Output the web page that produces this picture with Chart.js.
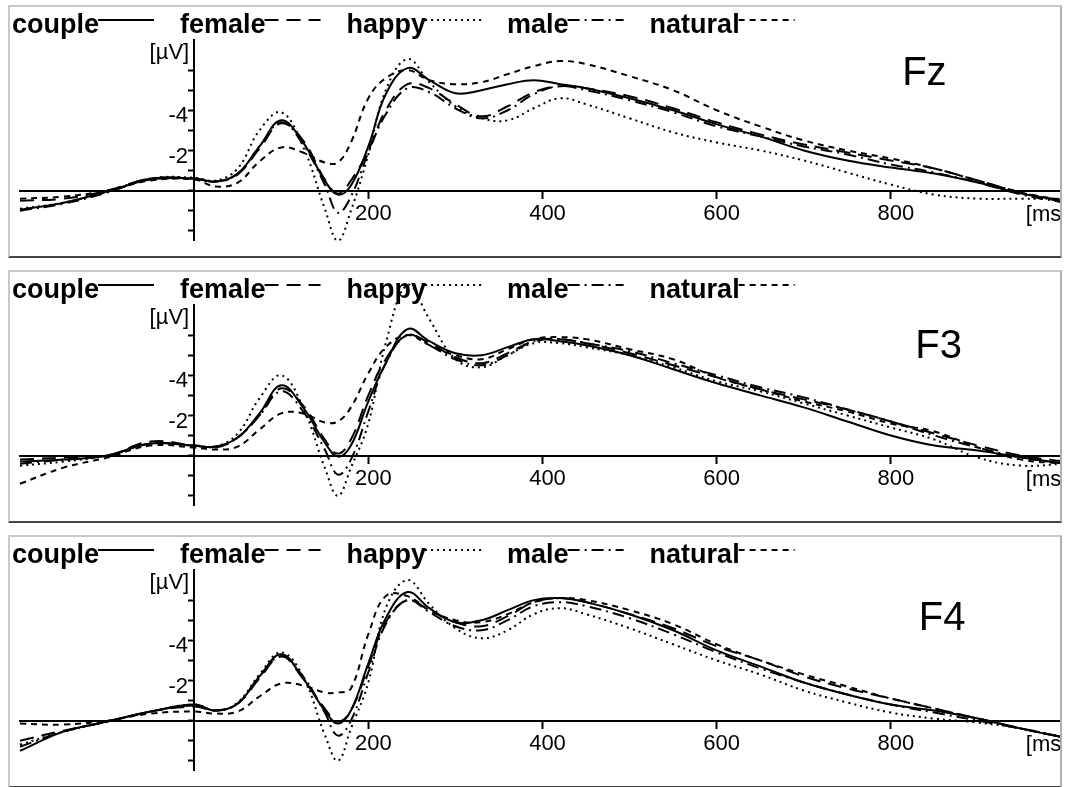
<!DOCTYPE html>
<html>
<head>
<meta charset="utf-8">
<script src="https://cdn.jsdelivr.net/npm/chart.js@4.4.1/dist/chart.umd.min.js"></script>
<style>
  body { margin: 0; background: #fff; width: 1067px; height: 787px; overflow: hidden; position: relative; }
  .panel { position: absolute; left: 8px; width: 1050px; height: 249px; border: 2px solid #c8c8c8; border-bottom-color: #444; border-right-color: #b0b0b0; overflow: hidden; background: #fff; }
  .panel canvas { position: absolute; left: 0; top: 0; }
</style>
</head>
<body>
<div class="panel" style="top:5px"><canvas id="fz" width="1060" height="249"></canvas></div>
<div class="panel" style="top:270px"><canvas id="f3" width="1060" height="249"></canvas></div>
<div class="panel" style="top:535px"><canvas id="f4" width="1060" height="249"></canvas></div>
<script>
// time points (ms) and conditions
let times = [-200,-150,-100,-50,0,25,50,75,100,125,150,165,180,200,220,245,270,300,330,360,390,420,450,500,550,600,650,700,750,800,850,900,950,1000]
let conditions = ['couple', 'female', 'happy', 'male', 'natural']
let xTicks = [200, 400, 600, 800]
let yTicks = [-6, -5, -4, -3, -2, -1, 0, 1, 2]
let yLabelled = [-4, -2]

// Fz (µV, negative is up)
let fzCouple  = [0.95,0.6,0.05,-0.55,-0.6,-0.45,-0.85,-2.2,-3.5,-2.4,-0.5,0.2,-0.25,-2.2,-4.8,-6.1,-5.5,-4.85,-5.0,-5.3,-5.5,-5.3,-5.1,-4.6,-4.0,-3.3,-2.7,-2.0,-1.5,-1.15,-0.85,-0.4,0.15,0.5]
let fzFemale  = [0.5,0.4,0.0,-0.6,-0.6,-0.45,-0.8,-2.1,-3.35,-2.5,-0.55,0.15,-0.5,-2.0,-4.0,-5.3,-5.1,-4.3,-3.7,-4.2,-4.9,-5.2,-5.1,-4.7,-4.1,-3.4,-2.8,-2.3,-1.9,-1.5,-1.1,-0.5,0.1,0.6]
let fzHappy   = [0.9,0.6,0.05,-0.6,-0.65,-0.5,-1.1,-3.0,-3.9,-2.2,0.9,2.5,1.0,-1.8,-5.0,-6.55,-5.4,-4.2,-3.6,-3.5,-4.1,-4.6,-4.3,-3.6,-2.9,-2.4,-2.0,-1.5,-0.9,-0.3,0.2,0.4,0.4,0.4]
let fzMale    = [1.0,0.65,0.1,-0.6,-0.6,-0.45,-0.85,-2.2,-3.4,-2.3,-0.3,1.1,0.3,-1.9,-3.8,-5.1,-4.9,-4.1,-3.6,-4.0,-4.8,-5.2,-5.0,-4.5,-3.9,-3.2,-2.7,-2.2,-1.8,-1.3,-0.9,-0.4,0.2,0.6]
let fzNatural = [0.4,0.3,0.0,-0.5,-0.55,-0.2,-0.4,-1.45,-2.15,-1.9,-1.4,-1.4,-2.4,-4.6,-5.6,-6.0,-5.5,-5.3,-5.4,-5.8,-6.2,-6.45,-6.3,-5.7,-5.0,-4.0,-3.2,-2.5,-2.0,-1.6,-1.1,-0.5,0.1,0.5]

// F3
let f3Couple  = [0.3,0.2,0.0,-0.6,-0.5,-0.45,-0.9,-2.1,-3.5,-2.4,-0.65,0.05,-0.5,-2.7,-4.6,-6.3,-5.7,-5.1,-5.0,-5.4,-5.8,-5.7,-5.5,-5.0,-4.3,-3.6,-3.0,-2.4,-1.7,-1.0,-0.5,-0.25,0.1,0.4]
let f3Female  = [0.2,0.1,0.0,-0.7,-0.5,-0.4,-0.9,-2.0,-3.35,-2.5,-0.8,-0.1,-0.8,-3.0,-4.8,-6.0,-5.6,-4.9,-4.6,-5.1,-5.7,-5.8,-5.6,-5.1,-4.5,-3.9,-3.3,-2.8,-2.3,-1.7,-1.1,-0.5,0.0,0.3]
let f3Happy   = [0.5,0.3,0.0,-0.6,-0.5,-0.45,-1.1,-2.85,-4.0,-2.4,0.6,2.0,0.6,-1.6,-5.6,-8.5,-6.8,-4.8,-4.4,-5.0,-5.6,-5.6,-5.4,-5.0,-4.4,-3.7,-3.2,-2.6,-2.0,-1.4,-0.8,0.1,0.5,0.4]
let f3Male    = [0.4,0.2,0.0,-0.6,-0.5,-0.45,-0.9,-2.0,-3.2,-2.2,-0.3,0.95,0.2,-2.2,-4.6,-6.0,-5.5,-4.8,-4.5,-5.0,-5.7,-5.8,-5.6,-5.2,-4.6,-4.0,-3.4,-2.9,-2.3,-1.7,-1.0,-0.4,0.1,0.4]
let f3Natural = [1.4,0.6,0.1,-0.5,-0.4,-0.3,-0.45,-1.3,-2.1,-2.1,-1.65,-1.7,-2.4,-4.1,-5.4,-6.0,-5.5,-5.0,-4.8,-5.3,-5.8,-5.9,-5.8,-5.3,-4.8,-3.9,-3.3,-2.7,-2.2,-1.6,-1.2,-0.4,0.2,0.4]

// F4
let f4Couple  = [1.5,0.55,0.05,-0.45,-0.8,-0.5,-0.85,-2.2,-3.3,-2.1,-0.5,0.15,-0.5,-2.85,-5.1,-6.4,-5.6,-4.9,-5.0,-5.5,-6.0,-6.1,-5.9,-5.3,-4.5,-3.5,-2.7,-1.9,-1.3,-0.8,-0.5,-0.1,0.4,0.85]
let f4Female  = [1.0,0.5,0.05,-0.45,-0.7,-0.5,-0.85,-2.1,-3.2,-2.1,-0.6,0.05,-0.5,-2.7,-4.9,-6.0,-5.5,-4.9,-4.7,-5.2,-5.9,-6.1,-5.9,-5.3,-4.6,-3.7,-3.0,-2.2,-1.6,-1.1,-0.6,-0.1,0.4,0.85]
let f4Happy   = [1.2,0.55,0.05,-0.45,-0.8,-0.5,-0.9,-2.3,-3.4,-2.2,0.7,2.0,0.4,-1.9,-5.6,-7.0,-5.8,-4.6,-4.1,-4.5,-5.3,-5.6,-5.3,-4.6,-3.8,-3.0,-2.3,-1.5,-0.9,-0.4,-0.1,0.1,0.4,0.85]
let f4Male    = [1.3,0.55,0.05,-0.45,-0.75,-0.5,-0.85,-2.2,-3.2,-2.2,-0.4,0.75,0.0,-2.4,-4.8,-6.0,-5.4,-4.7,-4.5,-5.0,-5.7,-5.9,-5.7,-5.1,-4.3,-3.4,-2.6,-1.9,-1.3,-0.8,-0.4,0.0,0.4,0.85]
let f4Natural = [0.15,0.2,0.0,-0.35,-0.45,-0.35,-0.45,-1.2,-1.85,-1.75,-1.4,-1.4,-1.6,-4.3,-6.2,-6.2,-5.5,-5.0,-4.9,-5.3,-5.9,-6.1,-6.0,-5.5,-4.8,-3.8,-3.0,-2.3,-1.7,-1.1,-0.6,-0.1,0.4,0.85]

// line style for each condition
let dashes = [[], [14, 8], [2, 4], [12, 5, 2, 5], [6, 5]]

Chart.defaults.font.family = '"Liberation Sans", Arial, sans-serif'
Chart.defaults.color = '#000'

// legend: text first, then the line sample
const legendAfter = {
    id: 'legendAfter',
    afterDraw(chart) {
        let ctx = chart.ctx
        ctx.save()
        ctx.font = 'bold 27px "Liberation Sans", Arial, sans-serif'
        ctx.fillStyle = '#000'
        ctx.strokeStyle = '#000'
        ctx.lineWidth = 2
        ctx.textBaseline = 'alphabetic'
        let x = 2
        chart.data.datasets.forEach(ds => {
            ctx.fillText(ds.label, x, 26)
            x += ctx.measureText(ds.label).width - 1
            ctx.setLineDash(ds.borderDash)
            ctx.beginPath()
            ctx.moveTo(x, 13)
            ctx.lineTo(x + 56, 13)
            ctx.stroke()
            x += 56 + 26
        })
        ctx.restore()
    }
}

// unit labels and electrode name
const axisText = {
    id: 'axisText',
    afterDraw(chart, args, opts) {
        let ctx = chart.ctx
        let xs = chart.scales.x
        let ys = chart.scales.y
        let x0 = xs.getPixelForValue(0)
        let y0 = ys.getPixelForValue(0)
        ctx.save()
        ctx.fillStyle = '#000'
        ctx.font = '22px "Liberation Sans", Arial, sans-serif'
        ctx.textBaseline = 'middle'
        ctx.textAlign = 'right'
        ctx.fillText('[µV]', x0 - 5, ys.getPixelForValue(-6.85))
        ctx.textAlign = 'left'
        ctx.fillText('[ms]', xs.getPixelForValue(955), y0 + 24)
        ctx.font = '40px "Liberation Sans", Arial, sans-serif'
        ctx.textBaseline = 'alphabetic'
        ctx.fillText(opts.name, xs.getPixelForValue(opts.at[0]), ys.getPixelForValue(opts.at[1]))
        ctx.restore()
    }
}

function make_chart(id, name, namePos, series){
    let ctx = document.getElementById(id).getContext('2d')
    return new Chart(ctx, {
        type: 'line',
        data: {
            datasets: conditions.map((c, i) => ({
                label: c,
                data: times.map((t, j) => ({x: t, y: series[i][j]})),
                borderColor: '#000',
                borderWidth: 2,
                borderDash: dashes[i],
                pointRadius: 0,
                tension: 0.4,
                fill: false,
                clip: false,
            })),
        },
        options: {
            responsive: false,
            animation: false,
            layout: {padding: {left: 10, right: 5, top: 33, bottom: 6}},
            plugins: {
                legend: {display: false},
                tooltip: {enabled: false},
                axisText: {name: name, at: namePos},
            },
            scales: {
                x: {
                    type: 'linear',
                    min: -200,
                    max: 1000,
                    position: {y: 0},
                    afterBuildTicks: s => { s.ticks = xTicks.map(v => ({value: v})) },
                    grid: {drawOnChartArea: false, tickLength: 7, tickWidth: 2, tickColor: '#000'},
                    border: {color: '#000', width: 2},
                    ticks: {font: {size: 22}, padding: 3, labelOffset: 5, maxRotation: 0, autoSkip: false},
                },
                y: {
                    type: 'linear',
                    min: -7.5,
                    max: 2.5,
                    reverse: true,
                    position: {x: 0},
                    afterBuildTicks: s => { s.ticks = yTicks.map(v => ({value: v})) },
                    grid: {drawOnChartArea: false, tickLength: 5, tickWidth: 2, tickColor: '#000'},
                    border: {color: '#000', width: 2},
                    ticks: {
                        font: {size: 22},
                        padding: 2,
                        labelOffset: 6,
                        autoSkip: false,
                        // label sits right-aligned on the axis, a trailing space keeps it clear
                        callback: v => yLabelled.includes(v) ? String(v) + ' ' : '',
                    },
                },
            },
        },
        plugins: [legendAfter, axisText],
    })
}

document.addEventListener('DOMContentLoaded', function(){
    make_chart('fz', 'Fz', [813, -5.24], [fzCouple, fzFemale, fzHappy, fzMale, fzNatural])
    make_chart('f3', 'F3', [828, -4.86], [f3Couple, f3Female, f3Happy, f3Male, f3Natural])
    make_chart('f4', 'F4', [832, -4.5], [f4Couple, f4Female, f4Happy, f4Male, f4Natural])
})
</script>
</body>
</html>
